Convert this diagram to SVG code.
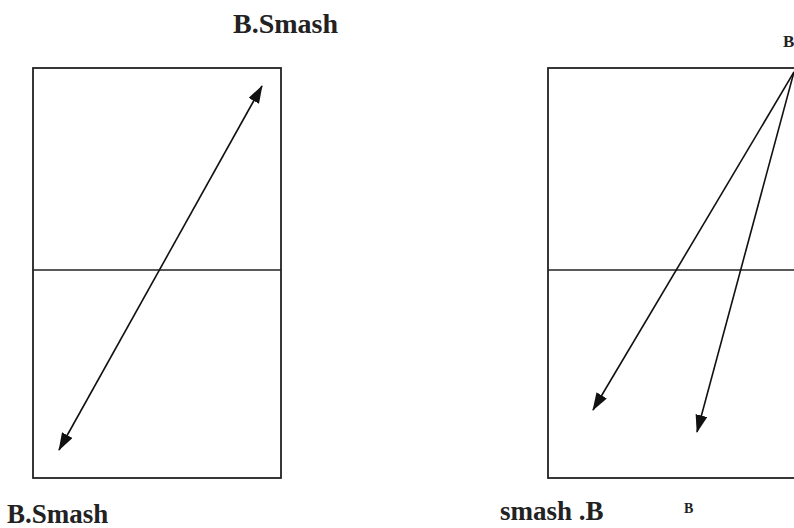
<svg xmlns="http://www.w3.org/2000/svg" width="794" height="528" viewBox="0 0 794 528">
<style>
.box{fill:none;stroke:#222;stroke-width:1.8}
.ln{stroke:#222;stroke-width:1.6}
.arr{stroke:#111;stroke-width:1.6;fill:none}
.lbl{font-family:"Liberation Serif","Times New Roman",serif;font-weight:bold;fill:#222}
</style>
<defs>
<marker id="ah" viewBox="0 0 18 12" refX="17" refY="6" markerWidth="18" markerHeight="12" markerUnits="userSpaceOnUse" orient="auto-start-reverse">
<path d="M0,0 L18,6 L0,12 Z" fill="#111"/>
</marker>
</defs>
<rect width="794" height="528" fill="#fff"/>
<g id="left-court">
<rect class="box" x="33" y="68" width="248" height="410"/>
<line class="ln" x1="33" y1="270" x2="281" y2="270"/>
</g>
<g id="right-court">
<rect class="box" x="548" y="68" width="260" height="410"/>
<line class="ln" x1="548" y1="270" x2="794" y2="270"/>
</g>
<g id="connectors">
<line class="arr" x1="262" y1="86" x2="59" y2="450" marker-start="url(#ah)" marker-end="url(#ah)"/>
<line class="arr" x1="794" y1="72" x2="593" y2="410" marker-end="url(#ah)"/>
<line class="arr" x1="794" y1="72" x2="697" y2="432" marker-end="url(#ah)"/>
</g>
<g id="labels">
<text class="lbl" x="233" y="33" font-size="28">B.Smash</text>
<text class="lbl" x="7" y="523" font-size="27">B.Smash</text>
<text class="lbl" x="500" y="520" font-size="27">smash .B</text>
<text class="lbl" x="684" y="513" font-size="14">B</text>
<text class="lbl" x="783" y="47" font-size="17">B</text>
</g>
</svg>
